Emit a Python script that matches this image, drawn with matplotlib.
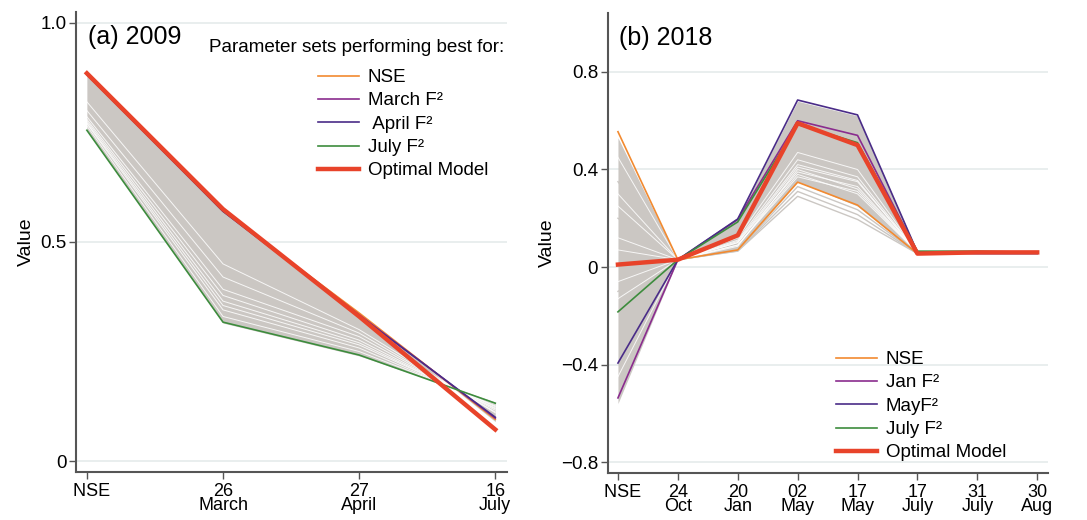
import matplotlib
matplotlib.use('Agg')
import matplotlib.pyplot as plt

plt.rcParams['font.family'] = ['Liberation Sans', 'DejaVu Sans']

# (a) 2009 - x positions: NSE, 26 March, 27 April, 16 July
labels_a = ['  NSE', '26\nMarch', '27\nApril', '16\nJuly']
opt_a = [0.885, 0.575, 0.330, 0.072]
nse_a = [0.885, 0.570, 0.338, 0.095]
mar_a = [0.883, 0.572, 0.334, 0.098]
apr_a = [0.882, 0.570, 0.332, 0.100]
jul_a = [0.755, 0.317, 0.242, 0.132]
# envelope of all parameter sets
band_top_a = [0.885, 0.575, 0.338, 0.090]
band_bot_a = [0.755, 0.315, 0.240, 0.135]
# gaps between the gray ensemble lines
white_a = [
    [0.765, 0.330, 0.250, 0.130],
    [0.770, 0.345, 0.258, 0.126],
    [0.772, 0.355, 0.265, 0.124],
    [0.776, 0.365, 0.270, 0.121],
    [0.780, 0.378, 0.276, 0.119],
    [0.786, 0.392, 0.284, 0.116],
    [0.800, 0.420, 0.292, 0.112],
    [0.820, 0.450, 0.300, 0.110],
]

# (b) 2018
labels_b = ['  NSE', '24\nOct', '20\nJan', '02\nMay', '17\nMay', '17\nJuly', '31\nJuly', '30\nAug']
opt_b = [0.010, 0.030, 0.130, 0.590, 0.500, 0.055, 0.060, 0.060]
nse_b = [0.555, 0.030, 0.070, 0.348, 0.254, 0.055, 0.060, 0.060]
jan_b = [-0.537, 0.030, 0.195, 0.600, 0.540, 0.060, 0.060, 0.060]
may_b = [-0.394, 0.030, 0.197, 0.685, 0.624, 0.060, 0.055, 0.055]
jul_b = [-0.184, 0.030, 0.185, 0.585, 0.510, 0.065, 0.065, 0.060]
band_top_b = [0.530, 0.030, 0.200, 0.680, 0.620, 0.065, 0.065, 0.065]
band_bot_b = [-0.560, 0.030, 0.070, 0.350, 0.250, 0.055, 0.055, 0.055]
gray_low_b = [
    [0.20, 0.030, 0.068, 0.330, 0.235, 0.055, 0.058, 0.058],
    [-0.10, 0.030, 0.066, 0.310, 0.215, 0.055, 0.058, 0.058],
    [0.35, 0.030, 0.065, 0.290, 0.195, 0.055, 0.058, 0.058],
]
white_b = [
    [0.45, 0.030, 0.120, 0.470, 0.400, 0.060, 0.060, 0.060],
    [0.30, 0.030, 0.110, 0.440, 0.370, 0.060, 0.060, 0.060],
    [0.25, 0.030, 0.105, 0.420, 0.355, 0.060, 0.060, 0.060],
    [0.12, 0.030, 0.100, 0.410, 0.350, 0.060, 0.060, 0.060],
    [0.07, 0.030, 0.100, 0.390, 0.330, 0.060, 0.060, 0.060],
    [-0.06, 0.030, 0.090, 0.370, 0.310, 0.060, 0.060, 0.060],
    [-0.13, 0.030, 0.090, 0.380, 0.300, 0.060, 0.060, 0.060],
    [-0.45, 0.030, 0.085, 0.400, 0.320, 0.060, 0.060, 0.060],
]

c_band = '#cbc7c3'
c_orange = '#f28a30'
c_purple = '#8a2c8e'
c_indigo = '#4a2c88'
c_green = '#3d8c3d'
c_red = '#e8432a'
c_spine = '#555555'
c_grid = '#e9eeee'


def style_axes(ax, labels, yticks, yticklabels, ylim, pad_l, pad_r):
    x = range(len(labels))
    ax.set_xlim(-pad_l, len(labels) - 1 + pad_r)
    ax.set_ylim(*ylim)
    ax.set_xticks(list(x))
    ax.set_xticklabels(labels, fontsize=13, linespacing=0.76)
    ax.set_yticks(yticks)
    ax.set_yticklabels(yticklabels, fontsize=13.5)
    for y in yticks:
        ax.axhline(y, color=c_grid, lw=1.4, zorder=0)
    for s in ['top', 'right']:
        ax.spines[s].set_visible(False)
    for s in ['left', 'bottom']:
        ax.spines[s].set_color(c_spine)
        ax.spines[s].set_linewidth(1.5)
    ax.tick_params(axis='y', length=5, width=1, color=c_spine, pad=2)
    ax.tick_params(axis='x', length=5, width=1, color=c_spine, pad=3)
    ax.set_ylabel('Value', fontsize=14, labelpad=4)


fig = plt.figure(figsize=(10.87, 5.2), dpi=100)
ax1 = fig.add_axes([0.0699, 0.0923, 0.3965, 0.8847])
ax2 = fig.add_axes([0.5593, 0.0904, 0.4048, 0.8846])

leg_kw = dict(frameon=False, fontsize=13.5, handlelength=2.2, handletextpad=0.45,
              labelspacing=0.33, borderpad=0, borderaxespad=0,
              bbox_transform=fig.transFigure, loc='upper left')

# Panel (a)
xa = list(range(len(labels_a)))
ax1.fill_between(xa, band_top_a, band_bot_a, color=c_band, lw=0, zorder=1)
for w in white_a:
    ax1.plot(xa, w, color='white', lw=0.7, alpha=0.85, zorder=2)
ax1.plot(xa, nse_a, color=c_orange, lw=1.2, zorder=3, label='NSE')
ax1.plot(xa, mar_a, color=c_purple, lw=1.2, zorder=3, label='March F\u00b2')
ax1.plot(xa, apr_a, color=c_indigo, lw=1.2, zorder=3, label=' April F\u00b2')
ax1.plot(xa, jul_a, color=c_green, lw=1.2, zorder=3, label='July F\u00b2')
ax1.plot(xa, opt_a, color=c_red, lw=3.2, zorder=4, label='Optimal Model')
style_axes(ax1, labels_a, [0, 0.5, 1.0], ['0', '0.5', '1.0'], (-0.025, 1.025), 0.08, 0.086)
ax1.text(0.028, 0.945, '(a) 2009', transform=ax1.transAxes, fontsize=18, va='center')
fig.text(209 / 1087, 1 - 48 / 520, 'Parameter sets performing best for:', fontsize=13.6, va='center')
ax1.legend(bbox_to_anchor=(318 / 1087, 1 - 69 / 520), **leg_kw)

# Panel (b)
xb = list(range(len(labels_b)))
ax2.fill_between(xb, band_top_b, band_bot_b, color=c_band, lw=0, zorder=1)
for g in gray_low_b:
    ax2.plot(xb, g, color=c_band, lw=1.0, zorder=1)
for w in white_b:
    ax2.plot(xb, w, color='white', lw=0.7, alpha=0.85, zorder=2)
ax2.plot(xb, nse_b, color=c_orange, lw=1.2, zorder=3, label='NSE')
ax2.plot(xb, jan_b, color=c_purple, lw=1.2, zorder=3, label='Jan F\u00b2')
ax2.plot(xb, may_b, color=c_indigo, lw=1.2, zorder=3, label='MayF\u00b2')
ax2.plot(xb, jul_b, color=c_green, lw=1.2, zorder=3, label='July F\u00b2')
ax2.plot(xb, opt_b, color=c_red, lw=3.2, zorder=4, label='Optimal Model')
style_axes(ax2, labels_b, [-0.8, -0.4, 0, 0.4, 0.8], ['\u22120.8', '\u22120.4', '0', '0.4', '0.8'],
           (-0.845, 1.042), 0.167, 0.18)
ax2.text(0.025, 0.945, '(b) 2018', transform=ax2.transAxes, fontsize=18, va='center')
ax2.legend(bbox_to_anchor=(836 / 1087, 1 - 351 / 520), **leg_kw)

fig.savefig('out.png', dpi=100)
